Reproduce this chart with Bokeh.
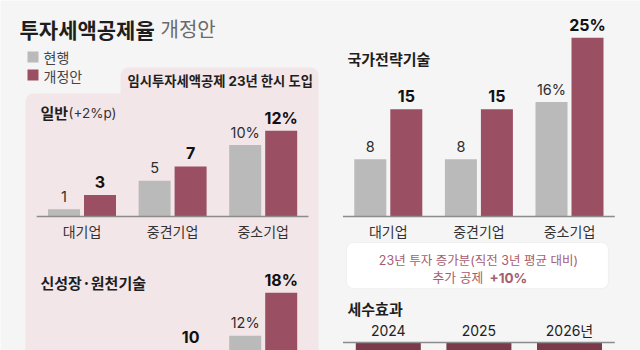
from bokeh.plotting import figure
from bokeh.models import Range1d, BoxAnnotation, ColumnDataSource
from bokeh.transform import dodge
from bokeh.core.properties import value
from bokeh.embed import file_html
from bokeh.resources import INLINE

# ---------------- data ----------------
categories = ["대기업", "중견기업", "중소기업"]
general_current = [1, 5, 10]
general_revised = [3, 7, 12]
general_current_labels = ["1", "5", "10%"]
general_revised_labels = ["3", "7", "12%"]

strategic_current = [8, 8, 16]
strategic_revised = [15, 15, 25]
strategic_current_labels = ["8", "8", "16%"]
strategic_revised_labels = ["15", "15", "25%"]

growth_current = [3, 6, 12]
growth_revised = [6, 10, 18]
growth_current_labels = ["3", "6", "12%"]
growth_revised_labels = ["6", "10", "18%"]

years = ["2024", "2025", "2026년"]
tax_effect = [-1.9, -1.7, -1.0]

# ---------------- style ----------------
KR = "Noto Sans CJK KR"
MIX = "Inter, 'Noto Sans CJK KR'"
BG = "#f5f5f5"
PINK = "#f3e6e9"
GRAY = "#bababa"
RED = "#9a4f62"
DARK = "#7b3a4a"
AXIS = "#8c8c8c"
W, H = 640, 350

STEP = 90.6          # px per category
K = 7.15             # px per percentage point
BAR_W = 32 / STEP
OFF = 18 / STEP

p = figure(width=W, height=H, x_range=Range1d(0, W), y_range=Range1d(H, 0),
           x_axis_location=None, y_axis_location=None, min_border=0,
           toolbar_location=None, output_backend="svg",
           background_fill_color=BG, border_fill_color=BG, outline_line_color=None)
p.grid.visible = False

# panel-specific scales
p.extra_x_ranges = {
    "left": Range1d(-81.5 / STEP, (W - 81.5) / STEP),
    "right": Range1d(-387.8 / STEP, (W - 387.8) / STEP),
}
p.extra_y_ranges = {
    "top": Range1d(-(H - 216) / K, 216 / K),
    "bottom": Range1d((421 - H) / K, 421 / K),
    "tax": Range1d(-(H - 342) / 30, 342 / 30),
}

# decorations
p.add_layout(BoxAnnotation(left=25, right=318, top=93, bottom=380, fill_color=PINK,
                           fill_alpha=1, line_color=None, border_radius=8, level="underlay"))
p.add_layout(BoxAnnotation(left=120, right=318, top=67, bottom=110, fill_color=PINK,
                           fill_alpha=1, line_color=None, border_radius=8, level="underlay"))
p.add_layout(BoxAnnotation(left=346, right=608, top=242, bottom=288, fill_color="white",
                           fill_alpha=1, line_color="#dddddd", line_width=1.2,
                           border_radius=7, level="underlay"))


def txt(x, y, t, size, color="#222222", style="normal", align="left", font=KR):
    p.text(x=[x], y=[y], text=[t], text_font=value(font), text_font_size=f"{size}px",
           text_color=color, text_font_style=style, text_align=align, text_baseline="middle")


# title & legend
txt(19, 28, "투자세액공제율", 21, "#1e1e1e", "bold")
txt(160, 28, "개정안", 20, "#6a6a6a")
p.quad(left=[27, 27], right=[38, 38], top=[51, 69], bottom=[62, 80], fill_color=[GRAY, RED],
       line_color=None)
txt(43, 56, "현행", 14, "#444444")
txt(43, 75, "개정안", 14, "#444444")
txt(127, 80, "임시투자세액공제 23년 한시 도입", 13.3, "#1e1e1e", "bold", font=MIX)

# panel titles
txt(40, 112, "일반", 15, "#1e1e1e", "bold")
txt(68, 112, "(+2%p)", 13.5, "#333333", font=MIX)
txt(40, 282, "신성장·원천기술", 15, "#1e1e1e", "bold")
txt(347, 58, "국가전략기술", 15, "#1e1e1e", "bold")
txt(347, 308, "세수효과", 15, "#1e1e1e", "bold")
txt(478, 260, "23년 투자 증가분(직전 3년 평균 대비)", 12.5, "#a85d6e", align="center", font=MIX)
txt(432, 277, "추가 공제", 12.8, "#a85d6e", font=MIX)
txt(489, 277, "+10%", 13.5, "#a85d6e", "bold", font=MIX)


def bar_chart(xr, yr, cur, rev, cur_lab, rev_lab, show_axis=True):
    xrng, yrng = p.extra_x_ranges[xr], p.extra_y_ranges[yr]
    idx = list(range(len(categories)))
    src = ColumnDataSource(dict(i=idx, cur=cur, rev=rev, cat=categories,
                                ly=[230] * len(idx)))
    p.vbar(x=dodge("i", -OFF, range=xrng), top="cur", bottom=0, width=BAR_W,
           source=src, fill_color=GRAY, line_color=None, x_range_name=xr, y_range_name=yr)
    p.vbar(x=dodge("i", OFF, range=xrng), top="rev", bottom=0, width=BAR_W,
           source=src, fill_color=RED, line_color=None, x_range_name=xr, y_range_name=yr)
    # labels only for bars whose top lies inside the visible window
    lo = min(yrng.start, yrng.end) - 1
    cl = ColumnDataSource(dict(i=[i for i in idx if cur[i] > lo],
                               v=[cur[i] for i in idx if cur[i] > lo],
                               t=[cur_lab[i] for i in idx if cur[i] > lo]))
    rl = ColumnDataSource(dict(i=[i for i in idx if rev[i] > lo],
                               v=[rev[i] for i in idx if rev[i] > lo],
                               t=[rev_lab[i] for i in idx if rev[i] > lo]))
    p.text(x=dodge("i", -OFF, range=xrng), y="v", text="t", source=cl,
           x_range_name=xr, y_range_name=yr, text_font=value(MIX), text_font_size="14.5px",
           text_color="#2e2e2e", text_align="center", text_baseline="middle", y_offset=-13)
    p.text(x=dodge("i", OFF, range=xrng), y="v", text="t", source=rl,
           x_range_name=xr, y_range_name=yr, text_font=value(MIX), text_font_size="16px",
           text_font_style="bold", text_color="#111111", text_align="center",
           text_baseline="middle", y_offset=-13)
    if show_axis:
        p.segment(x0=[-0.5], x1=[len(categories) - 0.5], y0=[0], y1=[0], line_color=AXIS,
                  line_width=1.5, x_range_name=xr, y_range_name=yr)
        p.text(x="i", y="ly", text="cat", source=src, x_range_name=xr,
               text_font=value(KR), text_font_size="14px", text_color="#333333",
               text_align="center", text_baseline="middle")


bar_chart("left", "top", general_current, general_revised,
          general_current_labels, general_revised_labels)
bar_chart("right", "top", strategic_current, strategic_revised,
          strategic_current_labels, strategic_revised_labels)
bar_chart("left", "bottom", growth_current, growth_revised,
          growth_current_labels, growth_revised_labels, show_axis=False)

# tax effect
yi = list(range(len(years)))
p.vbar(x=yi, top=tax_effect, bottom=0, width=65 / STEP, fill_color=DARK, line_color=None,
       x_range_name="right", y_range_name="tax")
p.segment(x0=[-0.5], x1=[len(years) - 0.5], y0=[0], y1=[0], line_color=AXIS, line_width=1.5,
          x_range_name="right", y_range_name="tax")
p.text(x=yi, y=[330] * len(yi), text=years, x_range_name="right", text_font=value(MIX),
       text_font_size="14px", text_color="#222222", text_align="center", text_baseline="middle")

open("out.html", "w").write(file_html(p, INLINE))
